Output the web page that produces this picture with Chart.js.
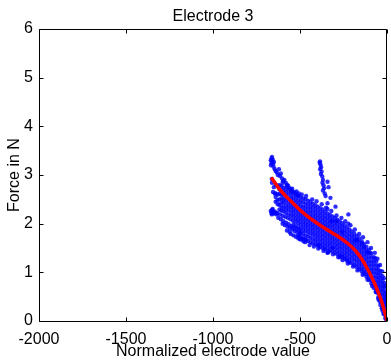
<!DOCTYPE html>
<html><head><meta charset="utf-8">
<script src="https://cdn.jsdelivr.net/npm/chart.js@4/dist/chart.umd.min.js"></script>
<style>html,body{margin:0;padding:0;background:#fff;overflow:hidden}canvas{display:block}</style>
</head><body>
<canvas id="c" width="391" height="362"></canvas>
<script>
const titleText = 'Electrode 3';
const xLabel = 'Normalized electrode value';
const yLabel = 'Force in N';
const xTicks = [-2000, -1500, -1000, -500, 0];
const yTicks = [0, 1, 2, 3, 4, 5, 6];

// red fitted curve
const fitX = [-665, -620, -580, -540, -500, -460, -410, -360, -310, -270, -228, -185, -150, -120, -95, -70, -45, -22, -5, 0];
const fitY = [2.95, 2.72, 2.56, 2.42, 2.28, 2.16, 2.03, 1.91, 1.80, 1.71, 1.60, 1.46, 1.30, 1.12, 0.95, 0.76, 0.54, 0.30, 0.07, 0.0];

// dense measurement cloud, per column: [x, y, y, ...]
const cloudColumns = [
  [-640, 2.80, 2.62, 2.45],
  [-628, 2.78, 2.60, 2.40],
  [-618, 2.79, 2.70, 2.61, 2.50, 2.39, 2.29],
  [-606, 2.77, 2.69, 2.60, 2.52, 2.44, 2.35, 2.27],
  [-594, 2.74, 2.66, 2.58, 2.49, 2.42, 2.33, 2.25],
  [-580, 2.71, 2.63, 2.55, 2.47, 2.38, 2.30, 2.22],
  [-566, 2.69, 2.61, 2.52, 2.44, 2.36, 2.28, 2.19],
  [-552, 2.65, 2.57, 2.49, 2.41, 2.33, 2.25, 2.17],
  [-538, 2.62, 2.54, 2.46, 2.38, 2.30, 2.22, 2.14, 1.98],
  [-524, 2.59, 2.51, 2.43, 2.35, 2.27, 2.19, 2.11, 1.95],
  [-510, 2.57, 2.48, 2.40, 2.32, 2.24, 2.16, 2.08, 1.92, 1.76],
  [-496, 2.54, 2.46, 2.38, 2.30, 2.22, 2.14, 2.06, 1.98, 1.90, 1.82, 1.73],
  [-482, 2.52, 2.44, 2.35, 2.27, 2.19, 2.11, 2.03, 1.95, 1.87, 1.79, 1.70],
  [-468, 2.50, 2.41, 2.33, 2.25, 2.17, 2.09, 2.01, 1.93, 1.85, 1.76, 1.68],
  [-454, 2.47, 2.39, 2.31, 2.23, 2.15, 2.07, 1.99, 1.91, 1.83, 1.74, 1.65],
  [-440, 2.44, 2.36, 2.28, 2.20, 2.12, 2.04, 1.96, 1.88, 1.80, 1.71, 1.62],
  [-426, 2.41, 2.33, 2.25, 2.17, 2.09, 2.01, 1.93, 1.85, 1.77, 1.68, 1.60],
  [-412, 2.38, 2.30, 2.22, 2.14, 2.06, 1.98, 1.90, 1.82, 1.74, 1.66, 1.58],
  [-398, 2.35, 2.27, 2.19, 2.11, 2.03, 1.95, 1.87, 1.79, 1.71, 1.63, 1.55],
  [-384, 2.32, 2.24, 2.16, 2.08, 2.00, 1.92, 1.84, 1.76, 1.68, 1.60, 1.52],
  [-370, 2.29, 2.21, 2.13, 2.05, 1.97, 1.89, 1.81, 1.73, 1.65, 1.57, 1.50],
  [-356, 2.25, 2.17, 2.09, 2.01, 1.93, 1.85, 1.77, 1.69, 1.61, 1.53, 1.47],
  [-342, 2.21, 2.13, 2.05, 1.97, 1.89, 1.81, 1.73, 1.65, 1.57, 1.49],
  [-328, 2.18, 2.10, 2.02, 1.94, 1.86, 1.78, 1.70, 1.62, 1.54, 1.46],
  [-314, 2.15, 2.07, 1.99, 1.91, 1.83, 1.75, 1.67, 1.59, 1.51, 1.43],
  [-300, 2.12, 2.04, 1.96, 1.88, 1.80, 1.72, 1.64, 1.56, 1.48, 1.40],
  [-286, 2.08, 2.00, 1.92, 1.84, 1.76, 1.68, 1.60, 1.52, 1.44, 1.37],
  [-272, 2.05, 1.97, 1.89, 1.81, 1.73, 1.65, 1.57, 1.49, 1.41, 1.34],
  [-258, 2.01, 1.93, 1.85, 1.77, 1.69, 1.61, 1.53, 1.45, 1.37, 1.31],
  [-244, 1.97, 1.89, 1.81, 1.73, 1.65, 1.57, 1.49, 1.41, 1.33, 1.28],
  [-230, 1.92, 1.84, 1.76, 1.68, 1.60, 1.52, 1.44, 1.36, 1.28, 1.24],
  [-216, 1.88, 1.80, 1.72, 1.64, 1.56, 1.48, 1.40, 1.32, 1.24, 1.20],
  [-202, 1.84, 1.76, 1.68, 1.60, 1.52, 1.44, 1.36, 1.28, 1.19],
  [-188, 1.80, 1.72, 1.64, 1.56, 1.48, 1.40, 1.32, 1.24, 1.15],
  [-174, 1.75, 1.67, 1.59, 1.51, 1.43, 1.35, 1.27, 1.19, 1.11],
  [-160, 1.70, 1.62, 1.54, 1.46, 1.38, 1.30, 1.22, 1.14, 1.07],
  [-146, 1.64, 1.56, 1.48, 1.40, 1.32, 1.24, 1.16, 1.08, 1.02],
  [-132, 1.58, 1.50, 1.42, 1.34, 1.26, 1.18, 1.10, 1.02, 0.97],
  [-118, 1.52, 1.44, 1.36, 1.28, 1.20, 1.12, 1.04, 0.96, 0.91],
  [-104, 1.46, 1.38, 1.30, 1.22, 1.14, 1.06, 0.98, 0.90, 0.84],
  [-90, 1.39, 1.31, 1.23, 1.15, 1.07, 0.99, 0.91, 0.83, 0.77],
  [-76, 1.31, 1.23, 1.15, 1.07, 0.99, 0.91, 0.83, 0.75, 0.68],
  [-62, 1.22, 1.14, 1.06, 0.98, 0.90, 0.82, 0.74, 0.66, 0.59],
  [-50, 1.13, 1.05, 0.97, 0.89, 0.81, 0.73, 0.65, 0.57, 0.49, 0.45],
  [-38, 1.03, 0.95, 0.87, 0.79, 0.71, 0.63, 0.55, 0.47, 0.39, 0.33],
  [-26, 0.92, 0.84, 0.76, 0.68, 0.60, 0.52, 0.44, 0.36, 0.28, 0.21],
  [-15, 0.78, 0.70, 0.62, 0.54, 0.46, 0.38, 0.30, 0.22, 0.14],
  [-6, 0.58, 0.50, 0.42, 0.34, 0.26, 0.18, 0.10, 0.04],
  [0, 0.40, 0.31, 0.22, 0.13, 0.04]
];

// upper-left tail starting near (-660, 3.3)
const upperTail = [
  [-668, 3.30], [-664, 3.34], [-660, 3.28], [-657, 3.32], [-663, 3.24], [-667, 3.20], [-654, 3.23], [-650, 3.27],
  [-661, 3.37], [-652, 3.17], [-645, 3.12], [-640, 3.08], [-633, 3.05], [-627, 3.00], [-621, 3.12], [-615, 2.98],
  [-610, 3.03], [-603, 2.93], [-597, 2.88], [-590, 2.90], [-582, 2.84], [-575, 2.80], [-568, 2.78], [-560, 2.73],
  [-553, 2.71], [-545, 2.66], [-536, 2.65], [-525, 2.62], [-513, 2.58], [-507, 2.62],
  [-661, 2.84], [-650, 2.75], [-655, 2.65], [-640, 2.55], [-630, 2.48], [-662, 2.92], [-645, 2.62]
];

// lower-left cluster near (-660, 2.25) and the streaks leaving it
const lowerStreaks = [
  [-668, 2.26], [-664, 2.22], [-660, 2.28], [-655, 2.24], [-650, 2.21], [-645, 2.25], [-640, 2.22], [-635, 2.19],
  [-662, 2.19], [-657, 2.30],
  [-630, 2.22], [-615, 2.19], [-600, 2.16], [-585, 2.14], [-570, 2.12], [-555, 2.09], [-540, 2.06], [-525, 2.04], [-510, 2.01],
  [-625, 2.12], [-610, 2.09], [-595, 2.05], [-580, 2.02], [-565, 1.99], [-550, 1.95], [-535, 1.92], [-520, 1.89], [-505, 1.86],
  [-600, 2.00], [-587, 1.97], [-572, 1.94], [-558, 1.91], [-544, 1.88], [-530, 1.85], [-516, 1.82], [-501, 1.80],
  [-575, 1.86], [-560, 1.83], [-553, 1.79], [-538, 1.76], [-524, 1.73], [-510, 1.70], [-496, 1.68], [-480, 1.64]
];

// isolated vertical streak near x = -375 and scattered outliers
const outliers = [
  [-387, 3.25], [-382, 3.21], [-379, 3.16], [-384, 3.12], [-376, 3.07], [-380, 3.02], [-372, 2.97], [-368, 2.90],
  [-371, 2.84], [-365, 2.79], [-362, 2.73], [-368, 2.68], [-358, 2.62], [-353, 2.57], [-385, 3.28],
  [-342, 2.86], [-336, 2.75], [-325, 2.53], [-342, 2.42], [-342, 2.30], [-296, 2.35], [-222, 2.19], [-222, 2.00],
  [-291, 2.05], [-319, 2.05], [-256, 1.83],
  [-507, 1.73], [-479, 1.68], [-467, 1.66], [-393, 1.56], [-342, 1.40], [-268, 1.31], [-313, 1.50], [-336, 1.42],
  [-171, 1.66], [-142, 1.60], [-68, 1.29], [-97, 1.40], [-182, 1.66], [-114, 1.42], [-131, 1.52]
];

// ragged edges of the cloud
const edgePoints = [
  [-600, 2.84], [-575, 2.77], [-545, 2.72], [-520, 2.66], [-490, 2.60], [-465, 2.57], [-430, 2.50], [-405, 2.46],
  [-375, 2.40], [-350, 2.33], [-320, 2.26], [-290, 2.17], [-262, 2.12], [-240, 2.05], [-210, 1.97], [-185, 1.88],
  [-160, 1.79], [-138, 1.72], [-112, 1.62], [-92, 1.50], [-70, 1.40], [-55, 1.28], [-40, 1.15], [-28, 1.02],
  [-18, 0.88], [-10, 0.72],
  [-500, 1.68], [-470, 1.62], [-445, 1.56], [-420, 1.53], [-395, 1.49], [-365, 1.44], [-340, 1.41], [-310, 1.37],
  [-280, 1.31], [-255, 1.25], [-225, 1.18], [-195, 1.12], [-170, 1.04], [-140, 0.95], [-112, 0.85], [-85, 0.72],
  [-65, 0.60], [-45, 0.42], [-30, 0.26], [-20, 0.15], [-10, 0.06]
];

const cloud = [];
cloudColumns.forEach(col => { for (let i = 1; i < col.length; i++) cloud.push({x: col[0], y: col[i]}); });
[upperTail, lowerStreaks, outliers, edgePoints].forEach(arr => arr.forEach(p => cloud.push({x: p[0], y: p[1]})));
const fitLine = fitX.map((x, i) => ({x: x, y: fitY[i]}));

const FONT = '"Liberation Sans", Arial, Helvetica, sans-serif';
Chart.defaults.font.family = FONT;
Chart.defaults.color = '#000';

const boxPlugin = {
  id: 'boxPlugin',
  afterDatasetsDraw(chart) {
    const {ctx, chartArea: a, scales: {x, y}} = chart;
    ctx.save();
    ctx.strokeStyle = '#000';
    ctx.lineWidth = 1;
    const L = Math.floor(a.left) + 0.5, R = Math.floor(a.right) - 0.5;
    const T = Math.floor(a.top) + 0.5, B = Math.floor(a.bottom) + 0.5;
    ctx.beginPath();
    ctx.rect(L, T, R - L, B - T);
    const tl = 4;
    xTicks.forEach(v => {
      const px = Math.round(x.getPixelForValue(v)) + 0.5;
      ctx.moveTo(px, B); ctx.lineTo(px, B - tl);
      ctx.moveTo(px, T); ctx.lineTo(px, T + tl);
    });
    yTicks.forEach(v => {
      const py = Math.round(y.getPixelForValue(v)) + 0.5;
      ctx.moveTo(L, py); ctx.lineTo(L + tl, py);
      ctx.moveTo(R, py); ctx.lineTo(R - tl, py);
    });
    ctx.stroke();
    ctx.restore();
  },
  afterDraw(chart) {
    const {ctx, chartArea: a} = chart;
    ctx.save();
    ctx.fillStyle = '#000';
    ctx.font = '16px ' + FONT;
    ctx.textAlign = 'center';
    ctx.textBaseline = 'alphabetic';
    ctx.fillText(titleText, (a.left + a.right) / 2, 21);
    ctx.restore();
  }
};

new Chart(document.getElementById('c'), {
  type: 'scatter',
  data: {
    datasets: [
      {
        type: 'line', data: fitLine, borderColor: '#ff0000', borderWidth: 3.5, pointRadius: 0,
        fill: false, tension: 0.4, cubicInterpolationMode: 'monotone', order: 0
      },
      {
        type: 'scatter', data: cloud, backgroundColor: 'rgba(0,0,255,0.82)', borderWidth: 0,
        pointRadius: 2.2, order: 1
      }
    ]
  },
  options: {
    responsive: false, animation: false, devicePixelRatio: 1,
    layout: {padding: {top: 29, right: 1, left: 0, bottom: 0}},
    plugins: {legend: {display: false}, tooltip: {enabled: false}, title: {display: false}},
    scales: {
      x: {
        type: 'linear', min: -2000, max: 0,
        afterBuildTicks(s) { s.ticks = xTicks.map(v => ({value: v})); },
        afterFit(s) { s.height = 41; s.paddingLeft = 0; s.paddingRight = 0; },
        grid: {display: false, drawTicks: false},
        border: {display: false},
        ticks: {padding: 9, font: {size: 16}, maxRotation: 0, autoSkip: false, callback: v => String(v)},
        title: {display: true, text: xLabel, font: {size: 16}, padding: {top: 0, bottom: 1}}
      },
      y: {
        type: 'linear', min: 0, max: 6,
        afterBuildTicks(s) { s.ticks = yTicks.map(v => ({value: v})); },
        afterFit(s) { s.width = 39; s.paddingTop = 0; s.paddingBottom = 0; },
        grid: {display: false, drawTicks: false},
        border: {display: false},
        ticks: {padding: 6, font: {size: 16}, autoSkip: false, callback: v => String(v)},
        title: {display: true, text: yLabel, font: {size: 16}, padding: {top: 5, bottom: 0}}
      }
    }
  },
  plugins: [boxPlugin]
});
</script>
</body></html>
